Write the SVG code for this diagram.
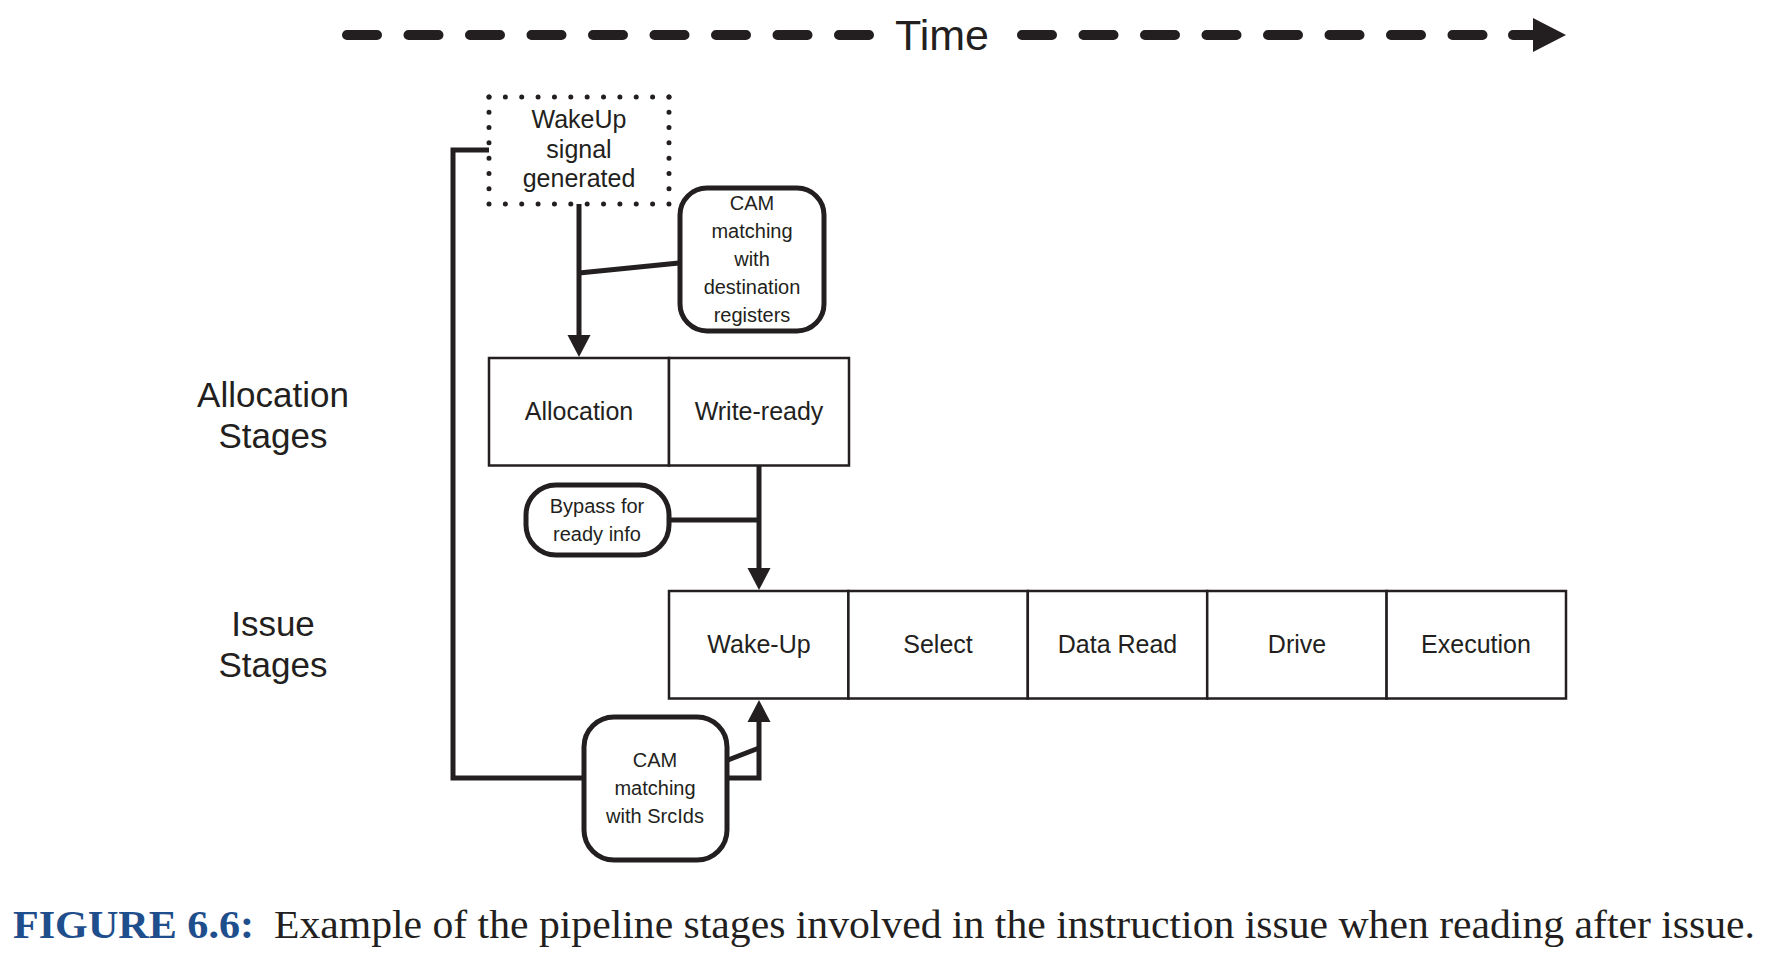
<svg xmlns="http://www.w3.org/2000/svg" width="1767" height="963" viewBox="0 0 1767 963">
<defs>
<style>
.sans{font-family:"Liberation Sans",Arial,sans-serif;fill:#231f20;text-anchor:middle}
.t25{font-size:25px}
.t20{font-size:20px}
.t35{font-size:35px}
.cell{fill:#fff;stroke:#231f20;stroke-width:2.5}
.rbox{fill:#fff;stroke:#231f20;stroke-width:5}
.conn{fill:none;stroke:#231f20;stroke-width:5;stroke-linejoin:miter}
.dash{fill:none;stroke:#231f20;stroke-width:10;stroke-linecap:round}
.dot{fill:none;stroke:#231f20;stroke-width:5;stroke-linecap:round}
.head{fill:#231f20}
.cap{font-family:"Liberation Serif","Times New Roman",serif;font-size:41px}
</style>
</defs>
<rect width="1767" height="963" fill="#fff"/>

<g id="time-axis">
<line class="dash" x1="347" y1="35" x2="869" y2="35" stroke-dasharray="30 31.5"/>
<line class="dash" x1="1022" y1="35" x2="1482.5" y2="35" stroke-dasharray="30 31.5"/>
<line class="dash" x1="1513" y1="35" x2="1535" y2="35"/>
<polygon class="head" points="1533,18 1566,35 1533,52"/>
<text class="sans" x="942" y="50" font-size="43">Time</text>
</g>

<g id="label-allocation">
<text class="sans t35" x="273" y="407">Allocation</text>
<text class="sans t35" x="273" y="448">Stages</text>
</g>
<g id="label-issue">
<text class="sans t35" x="273" y="636">Issue</text>
<text class="sans t35" x="273" y="677">Stages</text>
</g>

<g id="connectors">
<polyline class="conn" points="489,150 453,150 453,778 582,778"/>
<line class="conn" x1="579" y1="204" x2="579" y2="338"/>
<polygon class="head" points="567.5,335 590.5,335 579,357"/>
<line class="conn" x1="579" y1="273" x2="679" y2="263"/>
<line class="conn" x1="759" y1="466" x2="759" y2="570"/>
<polygon class="head" points="747.5,568 770.5,568 759,590"/>
<line class="conn" x1="670" y1="520" x2="759" y2="520"/>
<polyline class="conn" points="728,778 759,778 759,720"/>
<polygon class="head" points="747.5,722 770.5,722 759,700"/>
<line class="conn" x1="728" y1="760" x2="759" y2="748"/>
</g>

<g id="wakeup-signal">
<rect x="489" y="97" width="180" height="107" fill="#fff"/>
<line class="dot" x1="489" y1="97" x2="669" y2="97" stroke-dasharray="0 16.36"/>
<line class="dot" x1="489" y1="204" x2="669" y2="204" stroke-dasharray="0 16.36"/>
<line class="dot" x1="489" y1="97" x2="489" y2="204" stroke-dasharray="0 15.29"/>
<line class="dot" x1="669" y1="97" x2="669" y2="204" stroke-dasharray="0 15.29"/>
<text class="sans t25" x="579" y="128">WakeUp</text>
<text class="sans t25" x="579" y="157.5">signal</text>
<text class="sans t25" x="579" y="187">generated</text>
</g>

<g id="cam-dest">
<rect class="rbox" x="680" y="188" width="144" height="143" rx="27"/>
<text class="sans t20" x="752" y="210">CAM</text>
<text class="sans t20" x="752" y="238">matching</text>
<text class="sans t20" x="752" y="266">with</text>
<text class="sans t20" x="752" y="294">destination</text>
<text class="sans t20" x="752" y="322">registers</text>
</g>

<g id="allocation">
<rect class="cell" x="489" y="358" width="180" height="107.5"/>
<text class="sans t25" x="579" y="420">Allocation</text>
</g>
<g id="write-ready">
<rect class="cell" x="669" y="358" width="180" height="107.5"/>
<text class="sans t25" x="759" y="420">Write-ready</text>
</g>

<g id="bypass">
<rect class="rbox" x="526" y="485" width="143" height="70" rx="30"/>
<text class="sans t20" x="597" y="513">Bypass for</text>
<text class="sans t20" x="597" y="541">ready info</text>
</g>

<g id="wake-up">
<rect class="cell" x="669" y="591" width="179.4" height="107.5"/>
<text class="sans t25" x="759" y="653">Wake-Up</text>
</g>
<g id="select">
<rect class="cell" x="848.4" y="591" width="179.4" height="107.5"/>
<text class="sans t25" x="938" y="653">Select</text>
</g>
<g id="data-read">
<rect class="cell" x="1027.8" y="591" width="179.4" height="107.5"/>
<text class="sans t25" x="1117.5" y="653">Data Read</text>
</g>
<g id="drive">
<rect class="cell" x="1207.2" y="591" width="179.4" height="107.5"/>
<text class="sans t25" x="1297" y="653">Drive</text>
</g>
<g id="execution">
<rect class="cell" x="1386.6" y="591" width="179.4" height="107.5"/>
<text class="sans t25" x="1476" y="653">Execution</text>
</g>

<g id="cam-srcids">
<rect class="rbox" x="584" y="717" width="143" height="143" rx="30"/>
<text class="sans t20" x="655" y="767">CAM</text>
<text class="sans t20" x="655" y="795">matching</text>
<text class="sans t20" x="655" y="823">with SrcIds</text>
</g>

<g id="caption">
<text class="cap" x="13" y="938" font-weight="bold" fill="#1f4e8c" textLength="241" lengthAdjust="spacingAndGlyphs">FIGURE 6.6:</text>
<text class="cap" x="274" y="938" fill="#231f20" textLength="1481" lengthAdjust="spacingAndGlyphs">Example of the pipeline stages involved in the instruction issue when reading after issue.</text>
</g>
</svg>
